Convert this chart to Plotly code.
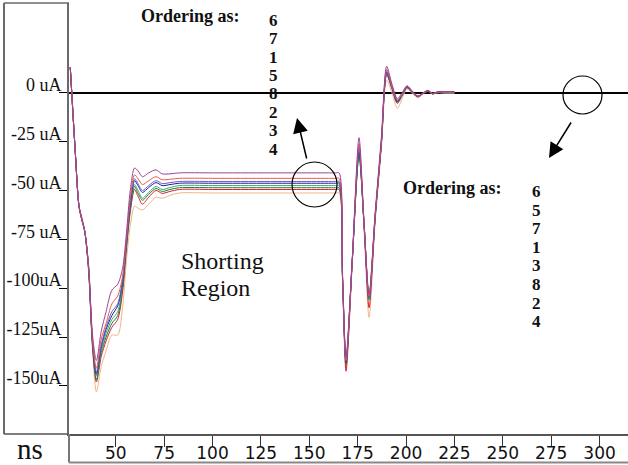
import plotly.graph_objects as go

# ---- data ----
T = [26.5, 29, 31, 32.5, 34, 36, 38, 40, 42.5, 45, 48, 51, 53.5, 55.5, 57.5, 59.7, 61.5, 63.8,
     67, 70.8, 74, 78, 83, 100, 130, 163.5, 165.4, 167.2, 169, 172.2, 175.7, 178.3, 180.9, 184, 187.3,
     190, 192.7, 195.5, 198, 200.5, 203.3, 206.2, 208.8, 211.4, 213.7, 216.5, 220.5, 225]

s6 = [13, -29, -58, -65, -71, -89, -124, -137, -122, -112, -101, -98, -90, -72, -50, -38.5, -40, -43,
      -41, -39.5, -41.5, -41.5, -41, -41, -41, -41, -41, -93, -135, -85, -23, -66, -103, -62, -22,
      13.5, 4.5, -3, 0, 3.5, 0.8, -1.6, 0, 1.2, -0.3, 0.6, 0.6, 0.6]
s7 = [13, -29, -58, -65, -71, -89, -126, -141, -126, -118, -108, -104, -94, -75, -54, -42, -44, -47,
      -45, -43, -44.5, -44.3, -43.8, -43.8, -43.8, -43.8, -43.8, -94, -137, -86, -26, -67, -104, -63, -24,
      12, 3.5, -3.5, -0.5, 3.5, 0.5, -1.8, -0.2, 1, -0.4, 0.4, 0.3, 0.3]
s1 = [13, -29, -58, -65, -71, -90, -127, -143, -129, -120, -112, -108, -96, -76, -56, -44, -46.5, -50,
      -47.5, -45, -46.5, -46, -45.4, -45.4, -45.4, -45.4, -45.4, -95, -137, -86, -28, -67, -105, -64, -25,
      11, 3, -4, -1, 3, 0.3, -2, -0.3, 1, -0.5, 0.3, 0.2, 0.2]
s5 = [13, -29, -58, -65, -71, -90, -128, -144, -130, -121, -114, -109, -97, -77, -57, -45, -47.5, -51,
      -48.5, -46, -47.5, -47, -46.3, -46.3, -46.3, -46.3, -46.3, -95, -138, -86, -30, -67, -105, -64, -25,
      10.5, 3, -4.5, -1, 3, 0.3, -2, -0.3, 1, -0.5, 0.4, 0.4, 0.4]
s8 = [13, -29, -58, -65, -71, -90, -128, -145, -132, -123, -116, -112, -98, -78, -58, -47, -50, -54,
      -51, -48, -49.5, -48.5, -47.5, -47.5, -47.5, -47.5, -47.5, -95, -138, -86, -32, -67, -106, -64, -25,
      10, 2.5, -4.5, -1.2, 3, 0.2, -2, -0.3, 1, -0.5, 0.2, 0, 0]
s2 = [13, -29, -58, -65, -71, -91, -129, -147, -133, -125, -118, -114, -100, -79, -60, -48, -51.5, -55,
      -52, -49, -50.5, -49.5, -48.6, -48.6, -48.6, -48.6, -48.6, -95, -139, -86, -32.5, -67, -106, -64, -25,
      9.5, 2.5, -5, -1.2, 2.8, 0.2, -2, -0.3, 0.9, -0.5, 0.2, -0.1, -0.1]
s3 = [13, -29, -58, -64, -71, -91, -130, -148, -135, -127, -120, -116, -102, -80, -61, -49.5, -53, -57,
      -53.5, -50, -51.5, -50.5, -49.5, -49.5, -49.5, -49.5, -49.5, -96, -142.5, -87, -30, -68, -110, -65, -26,
      9, 2, -5.5, -1.5, 2.5, 0, -2.2, -0.4, 0.8, -0.6, 0.3, 0.1, 0.1]
s4 = [13, -29, -58, -65, -71, -92, -132, -153, -140, -132, -124, -124, -110, -86, -68, -58, -59, -60,
      -57, -53.5, -54, -52.5, -51.3, -51.3, -51.3, -51.3, -51.3, -97, -141, -88, -27, -70, -115, -67, -28,
      6.5, 0, -8, -3, 2, -0.5, -2.5, -0.6, 0.7, -0.7, 0, -0.3, -0.3]

series_names = ["4", "3", "2", "8", "5", "1", "7", "6"]
series_vals = [s4, s3, s2, s8, s5, s1, s7, s6]
series_colors = ["#f2b486", "#d42030", "#1e7a3c", "#3fa862", "#1a1aa0", "#6a5acd", "#e06040", "#a0409a"]

x_ticks = [50, 75, 100, 125, 150, 175, 200, 225, 250, 275, 300]
y_ticks = [0, -25, -50, -75, -100, -125, -150]
y_tick_text = ["0 uA", "-25 uA", "-50 uA", "-75 uA", "-100uA", "-125uA", "-150uA"]

order_left = ["6", "7", "1", "5", "8", "2", "3", "4"]
order_right = ["6", "5", "7", "1", "3", "8", "2", "4"]

# ---- figure ----
W, H = 628, 465
L, R, TOP, BOT = 69, 628, 3, 434


def px(x):
    return (x - L) / (R - L)


def py(y):
    return (BOT - y) / (BOT - TOP)


fig = go.Figure()
for name, vals, col in zip(series_names, series_vals, series_colors):
    fig.add_trace(go.Scatter(x=T, y=vals, mode="lines", name=name,
                             line=dict(color=col, width=1, shape="spline", smoothing=0.8)))

fig.update_layout(
    width=W, height=H,
    margin=dict(l=L, r=W - R, t=TOP, b=H - BOT, pad=0),
    plot_bgcolor="white", paper_bgcolor="white", showlegend=False,
)
fig.update_xaxes(range=[25.84, 314.7], tickvals=x_ticks, ticks="outside", ticklen=11, tickwidth=1,
                 tickcolor="#333", showline=True, linecolor="#555", linewidth=1.5, showgrid=False,
                 zeroline=False, tickfont=dict(family="DejaVu Sans", size=17, color="#111"),
                 ticklabelstandoff=-8)
fig.update_yaxes(range=[-174.6, 45.9], tickvals=y_ticks, ticktext=y_tick_text, ticks="outside",
                 ticklen=8, tickwidth=1, tickcolor="black", showline=True, linecolor="#6a6a6a",
                 linewidth=2, zeroline=True, zerolinecolor="black", zerolinewidth=1.5, showgrid=False,
                 tickfont=dict(family="Liberation Serif", size=18, color="#111"),
                 ticklabelshift=-8, ticklabelstandoff=-6)

grey = "#6a6a6a"
shapes = [
    dict(type="line", xref="paper", yref="paper", x0=px(4), y0=py(3), x1=px(69), y1=py(3), line=dict(color=grey, width=1.5)),
    dict(type="line", xref="paper", yref="paper", x0=px(4), y0=py(3), x1=px(4), y1=py(434), line=dict(color=grey, width=2)),
    dict(type="line", xref="paper", yref="paper", x0=px(4), y0=py(434), x1=px(69), y1=py(434), line=dict(color="#555", width=1.5)),
    dict(type="line", xref="paper", yref="paper", x0=px(69), y0=py(434), x1=px(69), y1=py(462.5), line=dict(color="#777", width=2)),
    dict(type="line", xref="paper", yref="paper", x0=px(69), y0=py(462.5), x1=px(628), y1=py(462.5), line=dict(color="#888", width=2)),
    dict(type="circle", xref="paper", yref="paper", x0=px(292), x1=px(337), y0=py(207), y1=py(162), line=dict(color="black", width=1.2)),
    dict(type="circle", xref="paper", yref="paper", x0=px(563), x1=px(602), y0=py(114), y1=py(76), line=dict(color="black", width=1.2)),
]
fig.update_layout(shapes=shapes)

ann = []
serif = "Liberation Serif"


def label(text, x, y, size, xanchor="center"):
    return dict(text=text, x=px(x), y=py(y), xref="paper", yref="paper", xanchor=xanchor,
                yanchor="middle", showarrow=False, font=dict(family=serif, size=size, color="#111"))


ann.append(label("<b>Ordering as:</b>", 190, 16, 18))
ann.append(label("<b>Ordering as:</b>", 453, 188, 18))
for i, d in enumerate(order_left):
    ann.append(label("<b>" + d + "</b>", 273, 20.5 + i * 18.36, 17))
for i, d in enumerate(order_right):
    ann.append(label("<b>" + d + "</b>", 536, 191.7 + i * 18.57, 17))
ann.append(label("Shorting", 179, 261, 24, "left"))
ann.append(label("Region", 179, 288, 24, "left"))
ann.append(label("ns", 30, 449, 29))
# arrows
ann.append(dict(text="", x=px(297), y=py(118), xref="paper", yref="paper", ax=10, ay=42,
                showarrow=True, arrowhead=2, arrowsize=2, arrowwidth=1.5, arrowcolor="black",
                standoff=0, startstandoff=0))
ann.append(dict(text="", x=px(549), y=py(158), xref="paper", yref="paper", ax=23, ay=-37,
                showarrow=True, arrowhead=2, arrowsize=2, arrowwidth=1.5, arrowcolor="black",
                standoff=0, startstandoff=0))
fig.update_layout(annotations=ann)

fig.write_html("out.html")
